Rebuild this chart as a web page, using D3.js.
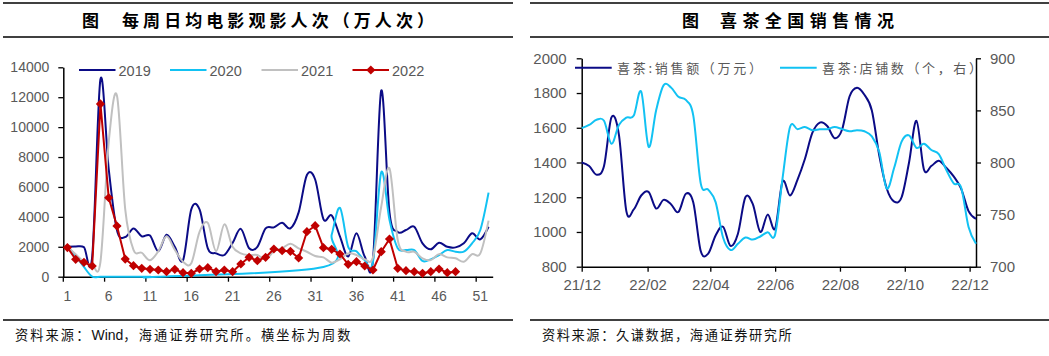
<!DOCTYPE html>
<html><head><meta charset="utf-8">
<script src="https://cdn.jsdelivr.net/npm/d3@7"></script>
<style>
body{margin:0;background:#fff;}
svg{display:block;}
</style></head><body>
<svg id="c" width="1049" height="356"></svg>
<script>
// ---------- Left chart data ----------
const weeks = d3.range(1, 53);
const xTickWeeks = [1, 6, 11, 16, 21, 26, 31, 36, 41, 46, 51];
const yTicksLeft = [0, 2000, 4000, 6000, 8000, 10000, 12000, 14000];
const seriesNames = ["2019", "2020", "2021", "2022"];
const v2019 = [2000,2020,1980,1350,13200,7200,3100,2650,3230,2700,2750,1700,2800,2000,1100,4500,4500,1900,1560,1450,2250,3200,1900,2000,3230,3300,3600,3230,4300,6800,6500,3850,4100,2700,1350,2900,1350,1100,12440,4300,3000,3120,3340,2230,1830,2270,2000,1960,2230,2900,2500,3340];
const v2020 = [2000,1400,650,0,0,0,0,0,0,0,0,0,null,null,null,null,null,null,null,null,null,null,null,null,null,null,null,null,null,null,null,650,2800,4600,2000,1700,1100,1000,6980,3800,1900,1780,1780,1050,1160,1450,1780,1670,1670,2230,3120,5620];
const v2021 = [2000,1500,1000,800,1000,9000,12100,4500,1800,1600,1100,1700,2700,1800,1000,900,3000,3600,1700,3500,2000,1560,1450,1450,1160,1700,1900,2200,1900,1670,1380,1290,940,1160,1560,1450,1160,1290,4680,7240,2450,1670,1670,1230,1110,1510,1290,1230,1000,1510,1560,3750];
const v2022 = [1950,1160,960,715,11550,5280,3390,1180,735,560,494,448,334,494,267,227,515,602,334,448,334,849,1297,1070,1297,1852,1738,1698,1250,3009,3410,1939,1832,1518,829,1003,715,448,1671,2520,560,401,334,227,334,515,267,334];

// ---------- Right chart data ----------
const startDate = "2021-12-01";
const sales = [1400,1380,1330,1380,1660,1560,1120,1130,1210,1230,1135,1185,1160,1115,1220,1170,890,875,980,1030,920,990,1200,1160,1000,1100,1020,1290,1210,1300,1420,1570,1630,1610,1540,1590,1780,1830,1790,1700,1440,1250,1175,1200,1400,1640,1360,1380,1410,1370,1320,1250,1120,1075];
const stores = [833,836,841,840,818,836,843,845,868,815,850,874,872,863,860,845,780,774,762,728,716,722,728,726,729,733,731,785,834,832,834,831,832,832,834,832,830,831,830,825,810,775,795,820,826,814,818,812,808,793,780,776,738,722];
const xTickDatesR = ["2021-12-01","2022-02-01","2022-04-01","2022-06-01","2022-08-01","2022-10-01","2022-12-01"];
const xTickLabelsR = ["21/12","22/02","22/04","22/06","22/08","22/10","22/12"];
const yTicksR1 = [800, 1000, 1200, 1400, 1600, 1800, 2000];
const yTicksR2 = [700, 750, 800, 850, 900];
const legendR = ["喜茶:销售额（万元）", "喜茶:店铺数（个，右）"];

// ---------- Texts ----------
const titleL = "每周日均电影观影人次（万人次）";
const titleR = "喜茶全国销售情况";
const sourceL = ["资料来源：", "Wind", "，海通证券研究所。横坐标为周数"];
const sourceR = ["资料来源：久谦数据，海通证券研究所"];

const NUM = "'Liberation Sans', Arial, sans-serif";
const CJK = "'Noto Sans CJK SC', sans-serif";
const NAVY = "#0B0B86", CYAN = "#12C2F3", GREY = "#C0C0C0", RED = "#C00000", TXT = "#595959";
const fmt = d3.format("d");

const svg = d3.select("#c");

function header(x1, x2, figX, titleX, title, titleLen) {
  svg.append("line").attr("x1", x1).attr("x2", x2).attr("y1", 3).attr("y2", 3).attr("stroke", "#000").attr("stroke-width", 1.5);
  svg.append("line").attr("x1", x1).attr("x2", x2).attr("y1", 37).attr("y2", 37).attr("stroke", "#000").attr("stroke-width", 1.5);
  svg.append("text").attr("x", figX).attr("y", 26.5).attr("font-family", CJK).attr("font-weight", 700).attr("font-size", 17).text("图");
  svg.append("text").attr("x", titleX).attr("y", 26.5).attr("font-family", CJK).attr("font-weight", 700).attr("font-size", 17)
    .attr("textLength", titleLen).attr("lengthAdjust", "spacing").text(title);
}
function footer(x1, x2, tx, parts, ls) {
  svg.append("line").attr("x1", x1).attr("x2", x2).attr("y1", 320).attr("y2", 320).attr("stroke", "#000").attr("stroke-width", 1.3);
  const t = svg.append("text").attr("x", tx).attr("y", 340).attr("font-family", CJK).attr("font-size", 13.2).attr("fill", "#111");
  parts.forEach(p => {
    const latin = /^[A-Za-z]+$/.test(p);
    t.append("tspan").attr("font-family", latin ? NUM : CJK).attr("font-size", latin ? 14 : 13.2)
      .attr("letter-spacing", latin ? 0 : ls).text(p);
  });
}
header(3, 513, 82, 122, titleL, 312);
header(530, 1049, 682, 720, titleR, 174);
footer(3, 513, 15, sourceL, 2.1);
footer(530, 1049, 542, sourceR, 1.6);

// ================= Left chart =================
const xL = d3.scaleBand().domain(weeks).range([63.3, 492.7]).padding(0);
const bw = xL.bandwidth();
const cx = w => xL(w) + bw / 2;
const yL = d3.scaleLinear().domain([0, 14000]).range([276.7, 67.3]);

const gL = svg.append("g");
const yAxisL = gL.append("g").attr("transform", "translate(63.3,0)")
  .call(d3.axisLeft(yL).tickValues(yTicksLeft).tickFormat(fmt).tickSize(5).tickSizeOuter(0).tickPadding(9));
const xAxisL = gL.append("g").attr("transform", "translate(0,276.7)")
  .call(d3.axisBottom(xL).tickValues(xTickWeeks).tickSize(5).tickSizeOuter(0).tickPadding(9));
xAxisL.selectAll(".tick line").attr("transform", `translate(${-bw / 2},0)`);
[yAxisL, xAxisL].forEach(a => {
  a.select(".domain").attr("stroke", "#000").attr("stroke-width", 1.5);
  a.selectAll(".tick line").attr("stroke", "#000").attr("stroke-width", 1.3);
  a.selectAll(".tick text").attr("font-family", NUM).attr("font-size", 14).attr("fill", TXT);
});

const smooth = d3.curveCardinal.tension(0);
function drawSeries(vals, color, curve) {
  const pts = weeks.map((w, i) => [w, vals[i]]).filter(d => d[1] !== null && d[1] !== undefined);
  gL.append("path").attr("d", d3.line().x(d => cx(d[0])).y(d => yL(d[1])).curve(curve)(pts))
    .attr("fill", "none").attr("stroke", color).attr("stroke-width", 2).attr("stroke-linejoin", "round");
  return pts;
}
drawSeries(v2019, NAVY, smooth);
drawSeries(v2020, CYAN, smooth);
drawSeries(v2021, GREY, smooth);
const p22 = drawSeries(v2022, RED, d3.curveLinear);
const diamond = "M0,-4.6L4.6,0L0,4.6L-4.6,0Z";
gL.selectAll(".mk").data(p22).enter().append("path").attr("d", diamond)
  .attr("transform", d => `translate(${cx(d[0])},${yL(d[1])})`).attr("fill", RED);

// legend
const legColors = [NAVY, CYAN, GREY, RED];
const legX = [79, 170, 261.5, 352.5];
seriesNames.forEach((n, i) => {
  gL.append("line").attr("x1", legX[i]).attr("x2", legX[i] + 36.5).attr("y1", 70).attr("y2", 70)
    .attr("stroke", legColors[i]).attr("stroke-width", 2);
  if (i === 3) gL.append("path").attr("d", diamond).attr("transform", `translate(${legX[i] + 18.3},70)`).attr("fill", RED);
  gL.append("text").attr("x", legX[i] + 39.5).attr("y", 75.5).attr("font-family", NUM).attr("font-size", 14.5).attr("fill", TXT).text(n);
});

// ================= Right chart =================
const parse = d3.timeParse("%Y-%m-%d");
const t0 = parse(startDate);
const dates = sales.map((_, i) => d3.timeDay.offset(t0, 7 * i));
const xR = d3.scaleTime().domain([t0, dates[dates.length - 1]]).range([581.7, 976]);
const yR1 = d3.scaleLinear().domain([800, 2000]).range([266.7, 58.3]);
const yR2 = d3.scaleLinear().domain([700, 900]).range([266.7, 58.3]);

const gR = svg.append("g");
const ax1 = gR.append("g").attr("transform", "translate(581.7,0)")
  .call(d3.axisLeft(yR1).tickValues(yTicksR1).tickFormat(fmt).tickSize(5).tickSizeOuter(0).tickPadding(10));
const ax2 = gR.append("g").attr("transform", "translate(976,0)")
  .call(d3.axisRight(yR2).tickValues(yTicksR2).tickFormat(fmt).tickSize(5).tickSizeOuter(0).tickPadding(9));
const tickDates = xTickDatesR.map(parse);
const ax3 = gR.append("g").attr("transform", "translate(0,266.7)")
  .call(d3.axisBottom(xR).tickValues(tickDates).tickFormat((d, i) => xTickLabelsR[i]).tickSize(5).tickSizeOuter(0).tickPadding(8));
[ax1, ax2, ax3].forEach(a => {
  a.select(".domain").attr("stroke", "#000").attr("stroke-width", 1.5);
  a.selectAll(".tick line").attr("stroke", "#000").attr("stroke-width", 1.3);
  a.selectAll(".tick text").attr("font-family", NUM).attr("font-size", 15).attr("fill", TXT);
});

gR.append("path").attr("d", d3.line().x((d, i) => xR(dates[i])).y(d => yR1(d)).curve(smooth)(sales))
  .attr("fill", "none").attr("stroke", NAVY).attr("stroke-width", 2);
gR.append("path").attr("d", d3.line().x((d, i) => xR(dates[i])).y(d => yR2(d)).curve(smooth)(stores))
  .attr("fill", "none").attr("stroke", CYAN).attr("stroke-width", 2);

// legend
const legRX = [575, 780], legRLen = [145, 160], legRC = [NAVY, CYAN];
legendR.forEach((n, i) => {
  gR.append("line").attr("x1", legRX[i]).attr("x2", legRX[i] + 36.7).attr("y1", 67.7).attr("y2", 67.7)
    .attr("stroke", legRC[i]).attr("stroke-width", 2);
  gR.append("text").attr("x", legRX[i] + 42).attr("y", 72.5).attr("font-family", CJK).attr("font-size", 13).attr("fill", TXT)
    .attr("textLength", legRLen[i]).attr("lengthAdjust", "spacing").text(n);
});
</script>
</body></html>
